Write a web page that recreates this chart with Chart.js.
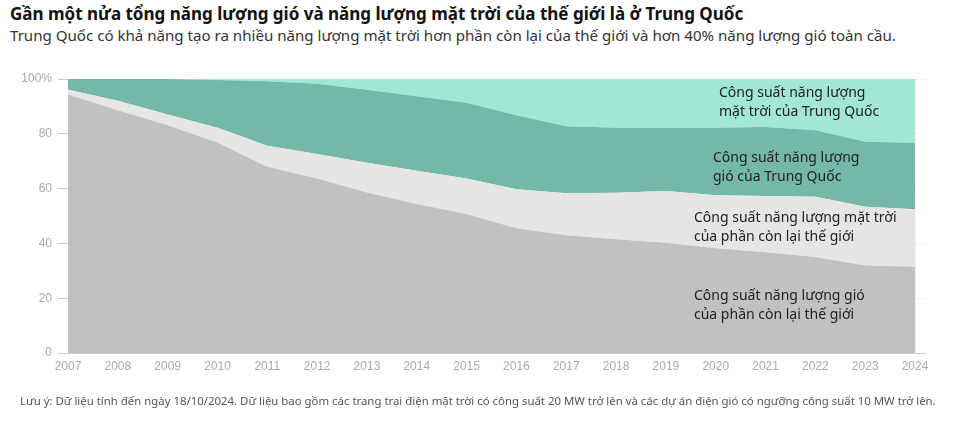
<!DOCTYPE html>
<html>
<head>
<meta charset="utf-8">
<script src="https://cdn.jsdelivr.net/npm/chart.js@4"></script>
<style>
    body { margin: 0; background: #ffffff; width: 971px; height: 433px; overflow: hidden; position: relative; font-family: "Noto Sans", sans-serif; }
    #wrap { position: absolute; left: 0; top: 0; width: 971px; height: 433px; }
    .title { position: absolute; left: 10px; top: 2px; font-size: 17px; font-weight: bold; color: #111; white-space: nowrap; }
    .subtitle { position: absolute; left: 10px; top: 25px; font-size: 15.1px; color: #333; white-space: nowrap; }
    .note { position: absolute; left: 20px; top: 393px; font-size: 11.4px; color: #555; white-space: nowrap; }
    .lbl { position: absolute; font-size: 14px; line-height: 19px; color: #222; white-space: nowrap; }
</style>
</head>
<body>
<div class="title">Gần một nửa tổng năng lượng gió và năng lượng mặt trời của thế giới là ở Trung Quốc</div>
<div class="subtitle">Trung Quốc có khả năng tạo ra nhiều năng lượng mặt trời hơn phần còn lại của thế giới và hơn 40% năng lượng gió toàn cầu.</div>
<div id="wrap"><canvas id="shareChart" width="971" height="433"></canvas></div>
<div class="lbl" style="left:719px; top:82px;">Công suất năng lượng<br>mặt trời của Trung Quốc</div>
<div class="lbl" style="left:713px; top:147px;">Công suất năng lượng<br>gió của Trung Quốc</div>
<div class="lbl" style="left:694px; top:207px;">Công suất năng lượng mặt trời<br>của phần còn lại thế giới</div>
<div class="lbl" style="left:694px; top:285px;">Công suất năng lượng gió<br>của phần còn lại thế giới</div>
<div class="note">Lưu ý: Dữ liệu tính đến ngày 18/10/2024. Dữ liệu bao gồm các trang trại điện mặt trời có công suất 20 MW trở lên và các dự án điện gió có ngưỡng công suất 10 MW trở lên.</div>
<script>
const years = [2007, 2008, 2009, 2010, 2011, 2012, 2013, 2014, 2015, 2016, 2017, 2018, 2019, 2020, 2021, 2022, 2023, 2024];

// shares of global capacity, %
const restWind   = [94.3, 88.6, 83.1, 76.8, 68.0, 63.7, 58.6, 54.4, 50.7, 45.5, 43.0, 41.5, 40.2, 38.2, 36.8, 35.0, 31.9, 31.5];
const restSolar  = [1.8, 3.5, 3.9, 5.4, 7.6, 8.9, 10.8, 12.1, 13.0, 14.3, 15.3, 17.0, 18.9, 19.4, 20.5, 22.0, 21.5, 21.0];
const chinaWind  = [3.9, 7.9, 13.0, 17.4, 23.6, 25.7, 26.7, 27.2, 27.6, 27.0, 24.5, 23.7, 23.1, 24.6, 25.2, 24.3, 23.7, 24.2];
const chinaSolar = [0.0, 0.0, 0.0, 0.4, 0.8, 1.7, 3.9, 6.3, 8.7, 13.2, 17.2, 17.8, 17.8, 17.8, 17.5, 18.7, 22.9, 23.3];

const yTicks = [0, 20, 40, 60, 80, 100];

function toPoints(values) {
    return values.map((v, i) => ({ x: years[i], y: v }));
}

function areaSet(label, values, color, fill) {
    return {
        label: label,
        data: toPoints(values),
        backgroundColor: color,
        borderWidth: 0,
        pointRadius: 0,
        tension: 0,
        fill: fill
    };
}

const tickFont = { family: "'Liberation Sans', Arial, sans-serif", size: 12 };

new Chart(document.getElementById("shareChart"), {
    type: "line",
    data: {
        datasets: [
            areaSet("Công suất năng lượng gió của phần còn lại thế giới", restWind, "#c1c1c1", "origin"),
            areaSet("Công suất năng lượng mặt trời của phần còn lại thế giới", restSolar, "#e5e5e5", "-1"),
            areaSet("Công suất năng lượng gió của Trung Quốc", chinaWind, "#74b8a9", "-1"),
            areaSet("Công suất năng lượng mặt trời của Trung Quốc", chinaSolar, "#a2e6d6", "-1")
        ]
    },
    options: {
        responsive: false,
        animation: false,
        layout: {
            padding: { left: 0, top: 79, right: 46, bottom: 56 }
        },
        plugins: {
            legend: { display: false },
            tooltip: { enabled: false }
        },
        scales: {
            x: {
                type: "linear",
                min: years[0],
                max: years[years.length - 1] + 0.2,
                z: 1,
                afterFit: (scale) => { scale.height = 24; },
                ticks: {
                    stepSize: 1,
                    includeBounds: false,
                    autoSkip: false,
                    maxRotation: 0,
                    padding: 6,
                    color: "#aaaaaa",
                    font: tickFont,
                    callback: (v) => String(v)
                },
                grid: {
                    color: "rgba(0,0,0,0.05)",
                    drawTicks: false
                },
                border: { display: true, color: "#cccccc" }
            },
            y: {
                stacked: true,
                min: 0,
                max: 100,
                z: 1,
                afterFit: (scale) => { scale.width = 68; },
                afterBuildTicks: (scale) => { scale.ticks = yTicks.map(v => ({ value: v })); },
                ticks: {
                    padding: 6,
                    color: "#aaaaaa",
                    font: tickFont,
                    callback: (v) => v === 100 ? "100%" : String(v)
                },
                grid: {
                    color: "rgba(0,0,0,0.05)",
                    tickColor: "#cccccc",
                    tickLength: 10
                },
                border: { display: false }
            }
        }
    }
});
</script>
</body>
</html>
